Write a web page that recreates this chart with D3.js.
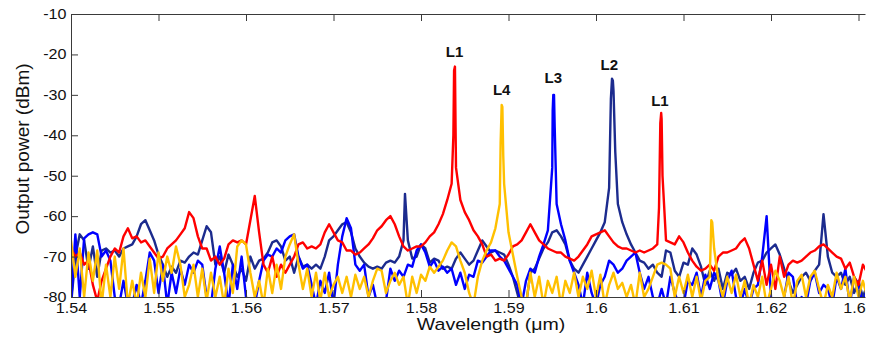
<!DOCTYPE html>
<html>
<head>
<meta charset="utf-8">
<script src="https://cdn.jsdelivr.net/npm/d3@7"></script>
<style>
  html, body { margin: 0; padding: 0; background: #ffffff; }
  svg { display: block; }
  text { font-family: "Liberation Sans", Arial, Helvetica, sans-serif; }
</style>
</head>
<body>
<svg id="chart" width="871" height="337"></svg>
<script>
// ---- data (wavelength grid in µm, power in dBm) ----
const wavelength = [
1.5400,1.5405,1.5410,1.5415,1.5420,1.5425,1.5430,1.5435,1.5440,1.5445,
1.5450,1.5455,1.5460,1.5465,1.5470,1.5475,1.5480,1.5485,1.5490,1.5495,
1.5500,1.5505,1.5510,1.5515,1.5520,1.5525,1.5530,1.5535,1.5540,1.5545,
1.5550,1.5555,1.5560,1.5565,1.5570,1.5575,1.5580,1.5585,1.5590,1.5595,
1.5600,1.5605,1.5610,1.5615,1.5620,1.5625,1.5630,1.5635,1.5640,1.5645,
1.5650,1.5655,1.5660,1.5665,1.5670,1.5675,1.5680,1.5685,1.5690,1.5695,
1.5700,1.5705,1.5710,1.5715,1.5720,1.5725,1.5730,1.5735,1.5740,1.5745,
1.5750,1.5755,1.5760,1.5765,1.5770,1.5775,1.5780,1.5785,1.5790,1.5795,
1.5800,1.5805,1.5810,1.5815,1.5820,1.5825,1.5830,1.5835,1.5840,1.5845,
1.5850,1.5855,1.5860,1.5865,1.5870,1.5875,1.5880,1.5885,1.5890,1.5895,
1.5900,1.5905,1.5910,1.5915,1.5920,1.5925,1.5930,1.5935,1.5940,1.5945,
1.5950,1.5955,1.5960,1.5965,1.5970,1.5975,1.5980,1.5985,1.5990,1.5995,
1.6000,1.6005,1.6010,1.6015,1.6020,1.6025,1.6030,1.6035,1.6040,1.6045,
1.6050,1.6055,1.6060,1.6065,1.6070,1.6075,1.6080,1.6085,1.6090,1.6095,
1.6100,1.6105,1.6110,1.6115,1.6120,1.6125,1.6130,1.6135,1.6140,1.6145,
1.6150,1.6155,1.6160,1.6165,1.6170,1.6175,1.6180,1.6185,1.6190,1.6195,
1.6200,1.6205,1.6210,1.6215,1.6220,1.6225,1.6230,1.6235,1.6240,1.6245,
1.6250,1.6255,1.6260,1.6265,1.6270,1.6275,1.6280,1.6285,1.6290,1.6295,
1.6300,1.6305,1.6310
];

const navyDb = [
-82,-70,-64.5,-66,-73,-67.5,-75,-68.5,-68,-69,
-68.5,-70,-68,-67.5,-67,-65,-62,-61,-63.5,-66,
-69.5,-72,-75,-72.5,-74,-71,-71.5,-70,-69,-69.5,
-66,-62.5,-64,-72,-70,-74,-69.5,-72,-75,-73,
-76,-70,-73,-71,-70.5,-69,-66.5,-66,-67.5,-71,
-70,-74,-70,-72.5,-72,-73,-72,-73,-70,-66,
-65,-63.5,-62,-61.5,-64,-68,-70,-71.5,-72.5,-73,
-72.5,-73,-71.5,-71,-71.5,-70,-66,-66,-70.5,-70,
-67,-68,-71.5,-70.5,-71,-73,-72.5,-73,-70.5,-69,
-70.5,-72,-71,-68.5,-66,-67.5,-69,-68.5,-69,-69.5,
-72,-75,-79,-83,-82,-74,-73,-70.5,-68,-66.5,
-64,-63.5,-65,-67,-71,-73,-74,-72,-70,-68,
-66,-64,-61.5,-53,-29,-57,-61.5,-64.5,-67,-69,
-71,-71.5,-73,-72,-74,-75,-68.5,-69,-73.5,-75,
-71.5,-72,-68,-69.5,-72.5,-77,-73.5,-76,-73,-78,
-74,-74.5,-73,-76,-75,-78,-74,-71.5,-71,-69,
-68,-67,-69.5,-73,-76,-79,-77,-75,-74,-76,
-73.5,-72,-59.5,-70,-74,-75,-74,-77,-75,-79,
-76,-80,-77
];
const navyPeakWl = [1.57817, 1.6017, 1.60183, 1.60193, 1.6022];
const navyPeakDb = [-54.5, -31, -26, -26.5, -44];

const blueDb = [
-82,-64.5,-80,-65.5,-64.5,-64,-64.5,-70,-68.5,-71,
-80,-82,-76,-82,-82,-77,-82,-76,-69,-71,
-79,-72,-82,-74,-79,-73,-77,-72,-74,-71,
-72,-80,-82,-73,-67.5,-74,-82,-72,-78,-70,
-80,-82,-82,-76,-71,-69.5,-70,-68,-69,-66,
-65,-64.5,-70,-73,-72,-77,-82,-76,-79,-74,
-82,-72,-65,-60.5,-63,-72,-73.5,-72,-80,-77,
-82,-82,-81,-73,-76,-73.5,-75,-72,-72.5,-68.5,
-67,-69,-72.5,-71,-73.5,-72.5,-74,-73,-77,-74,
-78,-74.5,-75,-71,-71.5,-70,-68.5,-68.5,-70,-71,
-73,-75,-77,-82,-76,-73,-74,-70,-67,-63.5,
-48,-57,-62,-66,-71,-74,-77,-82,-74,-79,
-82,-77,-75,-71,-72,-74,-73,-71,-70,-69,
-74,-78,-75,-80,-82,-78,-82,-75,-79,-82,
-82,-76,-77,-74,-80,-74.5,-78,-74,-76,-82,
-76,-73.5,-80,-82,-78,-82,-78,-77,-70,-60,
-80,-82,-82,-80,-74,-75,-82,-80,-82,-76,
-74,-79,-77,-78,-82,-75,-78,-73,-82,-75,
-77,-82,-78
];
const bluePeakWl = [1.59505, 1.59512, 1.5952, 1.59528];
const bluePeakDb = [-34, -30, -30, -38];

const redDb = [
-68,-70,-69,-72,-71,-77,-81,-76,-73,-70,
-68,-69,-65,-63,-65.5,-65,-66.5,-66,-67.5,-69,
-70.5,-70,-68,-67,-66,-64.5,-63,-59,-60.5,-65,
-68,-68,-71,-70,-72,-70.5,-67,-66,-66.5,-66,
-67,-61,-55,-64,-72,-74,-70,-75,-72,-74,
-72,-70,-67,-66.5,-68,-67.5,-68,-67,-64,-62,
-64,-66,-66.5,-68.5,-68.5,-69.5,-69,-68,-67,-65.5,
-63.5,-62.5,-61,-60,-62,-65,-67.5,-68.5,-68,-67.5,
-67.5,-66.5,-65,-64,-62,-59.5,-56,-52,-48,-56,
-59,-61,-63.5,-65,-67,-70,-69.5,-71,-70.5,-71,
-69.5,-67.5,-67,-66,-64,-62,-64,-66,-67,-68,
-68.5,-69,-69,-70,-70.5,-71,-70,-68.5,-67,-65,
-64.5,-64,-63.5,-65,-66.5,-67.5,-68,-68,-68.5,-69,
-68.5,-69,-68.5,-68,-67,-36,-66,-66.5,-67,-65,
-66.5,-69,-71,-72.5,-73.5,-73,-72,-73.5,-70,-69,
-69,-68.5,-68,-66.5,-65.5,-68,-72,-76,-71,-77,
-72,-78,-70,-75,-72,-71,-71.5,-71,-70,-69,
-68.5,-67.5,-67,-68,-69,-70,-70.5,-73,-71.5,-75,
-77,-72,-74
];
const redPeakWl = [1.5837, 1.58378, 1.58388, 1.58395, 1.6072, 1.60735, 1.60745, 1.6076];
const redPeakDb = [-40, -24, -23, -38, -58, -37, -34.5, -50];

const yellowDb = [
-66,-75,-68,-80,-69,-76,-68.5,-82,-72,-80,
-70,-78,-68,-82,-76,-82,-74,-80,-70.5,-79,
-69,-76,-70,-74,-67.5,-72,-80,-77,-72,-80,
-73,-81,-74,-80,-75,-82,-73,-79,-67.5,-66,
-67,-74,-80,-76,-82,-73,-79,-72,-78,-70,
-67,-64.5,-72,-78,-73,-80,-74,-81,-74,-80,
-77,-75,-79,-75,-80,-74.5,-78,-75,-80,-76,
-73,-73.5,-79,-76,-74,-77,-75,-82,-75,-79,
-74.5,-76,-72.5,-74,-72.5,-71,-68.5,-66.5,-67.5,-71,
-74,-79,-82,-75,-71,-68.5,-66.5,-63,-57,-52,
-64,-69.5,-75,-80,-82,-74,-80,-75,-82,-76,
-79,-75,-82,-76,-79,-74,-80,-75,-78,-73.5,
-80,-74.5,-82,-77,-74,-78,-76.5,-80,-77,-82,
-74,-80,-78,-75,-72,-71.5,-72,-73,-80,-75,
-79,-74.5,-80,-75,-81,-76,-75,-68,-76,-80,
-75,-79,-74.5,-80,-76,-82,-77,-80,-75,-82,
-78,-73.5,-76,-80,-75,-82,-76,-74.5,-80,-75,
-73.5,-78,-82,-77,-80,-74,-78,-75,-81,-75,
-80,-76,-80
];
const yellowPeakWl = [1.5891, 1.58922, 1.5893, 1.5894, 1.61318, 1.61328];
const yellowPeakDb = [-42, -32.5, -33, -45, -61, -61.5];

const xTickValues = [1.54, 1.55, 1.56, 1.57, 1.58, 1.59, 1.60, 1.61, 1.62, 1.63];
const xTickLabels = ["1.54", "1.55", "1.56", "1.57", "1.58", "1.59", "1.6", "1.61", "1.62", "1.63"];
const yTickValues = [-80, -70, -60, -50, -40, -30, -20, -10];
const yTickLabels = ["-80", "-70", "-60", "-50", "-40", "-30", "-20", "-10"];

const peakLabels = ["L1", "L4", "L3", "L2", "L1"];
const peakLabelWl = [1.58383, 1.58922, 1.59512, 1.60152, 1.60731];
const peakLabelDb = [-20.7, -30.0, -27.1, -23.9, -32.8];

// ---- layout ----
const svg = d3.select("#chart");
const L = 71, R = 865, T = 14, B = 297;
const x = d3.scaleLinear().domain([1.54, 1.54 + (R - L) / 8750]).range([L, R]);
const y = d3.scaleLinear().domain([-80, -10]).range([B, T]);
const SX = 1.15;

function build(db, pw, pd) {
  const pts = wavelength.map((w, i) => [w, db[i]]);
  pw.forEach((w, i) => pts.push([w, pd[i]]));
  pts.sort((a, b) => a[0] - b[0]);
  return pts;
}

const series = [
  { pts: build(navyDb, navyPeakWl, navyPeakDb), color: "#1c2b8e" },
  { pts: build(blueDb, bluePeakWl, bluePeakDb), color: "#0000ff" },
  { pts: build(redDb, redPeakWl, redPeakDb), color: "#ff0000" },
  { pts: build(yellowDb, yellowPeakWl, yellowPeakDb), color: "#ffc000" }
];

const defs = svg.append("defs");
defs.append("clipPath").attr("id", "plotclip")
  .append("rect").attr("x", L).attr("y", T).attr("width", R - L).attr("height", B - T);
// the original figure is cropped just right of the plot frame
defs.append("clipPath").attr("id", "pageclip")
  .append("rect").attr("x", 0).attr("y", 0).attr("width", R + 1).attr("height", 337);

const page = svg.append("g").attr("clip-path", "url(#pageclip)");

const line = d3.line().x(d => x(d[0])).y(d => y(d[1]));
const g = page.append("g").attr("clip-path", "url(#plotclip)");
series.forEach(s => {
  g.append("path").datum(s.pts)
    .attr("d", line)
    .attr("fill", "none")
    .attr("stroke", s.color)
    .attr("stroke-width", 2.4)
    .attr("stroke-linejoin", "round");
});

// ---- axes ----
const axisColor = "#3a3a3a";
const xAxis = d3.axisBottom(x).tickValues(xTickValues)
  .tickFormat((d, i) => xTickLabels[i]).tickSizeInner(-7).tickSizeOuter(0).tickPadding(6);
const gx = page.append("g").attr("transform", `translate(0,${B})`).call(xAxis);
gx.select(".domain").attr("stroke", axisColor);
gx.selectAll(".tick line").attr("stroke", axisColor);
gx.selectAll(".tick text").attr("font-size", 14).attr("fill", "#111")
  .attr("font-family", '"Liberation Sans", Arial, sans-serif')
  .attr("transform", `scale(${SX},1)`);

const xTop = d3.axisTop(x).tickValues(xTickValues).tickFormat("").tickSizeInner(-7).tickSizeOuter(0);
const gt = page.append("g").attr("transform", `translate(0,${T})`).call(xTop);
gt.select(".domain").attr("stroke", axisColor);
gt.selectAll(".tick line").attr("stroke", axisColor);

const yAxis = d3.axisLeft(y).tickValues(yTickValues)
  .tickFormat((d, i) => yTickLabels[i]).tickSizeInner(-7).tickSizeOuter(0).tickPadding(4);
const gy = page.append("g").attr("transform", `translate(${L},0)`).call(yAxis);
gy.select(".domain").attr("stroke", axisColor);
gy.selectAll(".tick line").attr("stroke", axisColor);
gy.selectAll(".tick text").attr("font-size", 14).attr("fill", "#111")
  .attr("font-family", '"Liberation Sans", Arial, sans-serif')
  .attr("transform", `scale(${SX},1)`);

// axis titles
page.append("text")
  .attr("transform", `translate(${(L + R) / 2 + 23},330) scale(${SX},1)`)
  .attr("text-anchor", "middle").attr("font-size", 17).attr("fill", "#111")
  .text("Wavelength (\u03bcm)");

page.append("text")
  .attr("transform", "translate(29,149) rotate(-90)")
  .attr("text-anchor", "middle").attr("font-size", 19).attr("fill", "#111")
  .text("Output power (dBm)");

// peak labels
page.append("g").selectAll("text").data(peakLabels).join("text")
  .attr("x", (d, i) => x(peakLabelWl[i]))
  .attr("y", (d, i) => y(peakLabelDb[i]))
  .attr("text-anchor", "middle").attr("font-size", 15).attr("font-weight", "bold")
  .attr("fill", "#111")
  .text(d => d);
</script>
</body>
</html>
